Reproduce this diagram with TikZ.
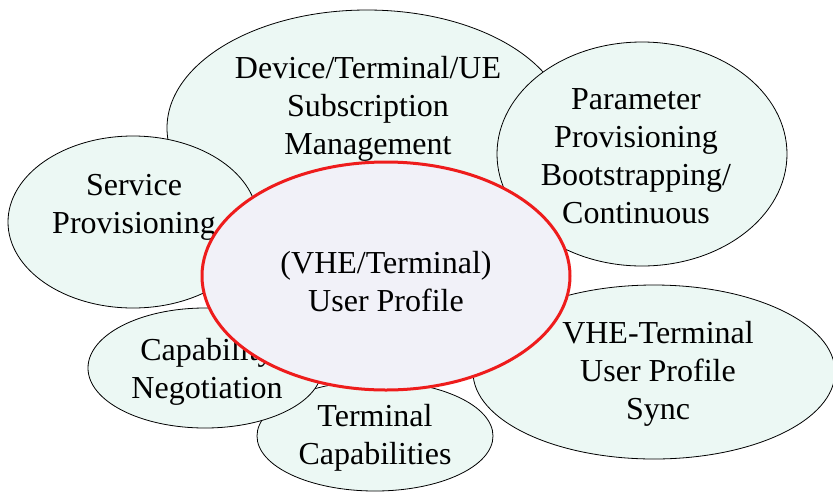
\documentclass[tikz,border=0pt]{standalone}
\usepackage{fontspec}
\setmainfont{Liberation Serif}
\usetikzlibrary{shapes.geometric}
\definecolor{bubble}{HTML}{ECF8F4}
\definecolor{core}{HTML}{F1F1F8}
\definecolor{corered}{HTML}{EE1C1C}
\begin{document}
\begin{tikzpicture}[x=1pt,y=-1pt,
  bub/.style={fill=bubble,draw=black,line width=0.8pt},
  txt/.style={align=center,font=\fontsize{32}{38}\selectfont,inner sep=0pt}]
\useasboundingbox (0,0) rectangle (833,491);
% Device/Terminal/UE
\filldraw[bub] (367,128) ellipse[x radius=200,y radius=118];
\node[txt] (dev) at (368,109) {Device/Terminal/UE\\Subscription\\Management};
% Parameter provisioning
\filldraw[bub] (642,154) ellipse[x radius=145,y radius=112];
\node[txt] (par) at (636,156) {Parameter\\Provisioning\\Bootstrapping/\\Continuous};
% Service provisioning
\filldraw[bub] (133,222) ellipse[x radius=125,y radius=86];
\node[txt] (svc) at (134,207) {Service\\Provisioning};
% VHE-Terminal sync
\filldraw[bub] (654,372) ellipse[x radius=181,y radius=87];
\node[txt] (sync) at (658,374) {VHE-Terminal\\User Profile\\Sync};
% Terminal capabilities
\filldraw[bub] (375,436) ellipse[x radius=118,y radius=55];
\node[txt] (tcap) at (375,438) {Terminal\\Capabilities};
% Capability negotiation
\filldraw[bub] (205,368) ellipse[x radius=117,y radius=60];
\node[txt] (cneg) at (207,372) {Capability\\Negotiation};
% Core
\filldraw[fill=core,draw=corered,line width=3pt] (386,276) ellipse[x radius=184,y radius=114];
\node[txt] (core) at (386,282) {(VHE/Terminal)\\User Profile};
\end{tikzpicture}
\end{document}
